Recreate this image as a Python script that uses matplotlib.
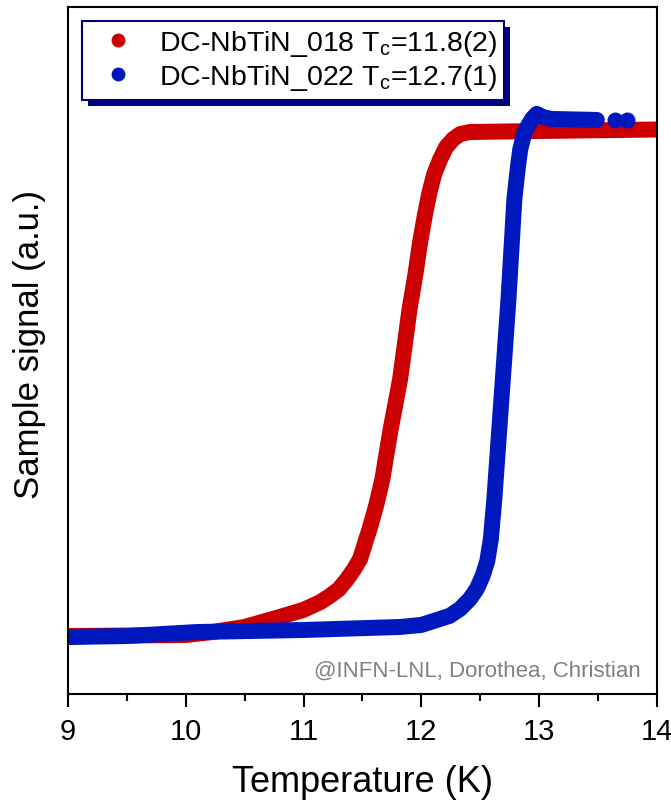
import numpy as np
import matplotlib.pyplot as plt
from matplotlib.lines import Line2D
from matplotlib.patches import Rectangle

plt.rcParams['font.family'] = ['Liberation Sans', 'DejaVu Sans']

# sample 018 (normalised signal)
t_018 = [9.0, 9.5, 10.0, 10.23, 10.5, 10.8, 11.0, 11.14, 11.22, 11.3, 11.37, 11.43, 11.48,
         11.52, 11.56, 11.62, 11.67, 11.70, 11.74, 11.78, 11.82, 11.86, 11.90, 11.95, 11.99,
         12.03, 12.07, 12.11, 12.16, 12.21, 12.27, 12.33, 12.41, 13.0, 14.0]
s_018 = [0.0, 0.001, 0.002, 0.008, 0.018, 0.038, 0.052, 0.067, 0.079, 0.093, 0.113, 0.133, 0.153,
         0.183, 0.212, 0.262, 0.312, 0.355, 0.411, 0.460, 0.510, 0.579, 0.649, 0.718, 0.782,
         0.835, 0.881, 0.917, 0.946, 0.970, 0.986, 0.996, 1.0, 1.002, 1.005]

# sample 022
t_022 = [9.0, 9.5, 10.1, 11.0, 11.82, 12.0, 12.24, 12.33, 12.41, 12.47, 12.52, 12.56, 12.59,
         12.62, 12.65, 12.68, 12.71, 12.74, 12.765, 12.79, 12.82, 12.84, 12.88, 12.94, 12.98,
         13.03, 13.1, 13.49]
s_022 = [-0.002, 0.0, 0.008, 0.012, 0.018, 0.022, 0.040, 0.054, 0.073, 0.093, 0.119, 0.149, 0.192,
         0.272, 0.371, 0.470, 0.569, 0.669, 0.768, 0.867, 0.931, 0.966, 1.002, 1.026, 1.036,
         1.030, 1.026, 1.024]
t_022_tail = [13.64, 13.75]
s_022_tail = [1.024, 1.024]

red = '#CC0000'
blue = '#0019BE'
navy = '#00007F'

fig = plt.figure(figsize=(6.71, 8.03), dpi=100)
ax = fig.add_axes([0.1013, 0.1345, 0.8777, 0.8555])

ax.plot(t_018, s_018, '-', color=red, lw=11.5, solid_capstyle='round', solid_joinstyle='round')
ax.plot(t_022, s_022, '-', color=blue, lw=11.5, solid_capstyle='round', solid_joinstyle='round')
ax.plot(t_022_tail, s_022_tail, 'o', color=blue, ms=11.5, mec='none')

ax.set_xlim(9, 14)
ax.set_ylim(-0.115, 1.248)
ax.set_xticks([9, 10, 11, 12, 13, 14])
ax.set_xticks(np.arange(9.5, 14, 1.0), minor=True)
ax.set_yticks([])
ax.tick_params(axis='x', which='major', direction='out', length=9.5, width=1.5,
               labelsize=21, pad=7)
ax.tick_params(axis='x', which='minor', direction='out', length=5, width=1.5)
for sp in ax.spines.values():
    sp.set_linewidth(1.5)

ax.set_xlabel('Temperature (K)', fontsize=26, labelpad=14)
ax.set_ylabel('Sample signal (a.u.)', fontsize=25)
ax.yaxis.set_label_coords(-0.038, 0.51)

ax.text(0.972, 0.035, '@INFN-LNL, Dorothea, Christian', transform=ax.transAxes,
        ha='right', va='center', fontsize=16, color='#808080')

handles = [Line2D([], [], ls='none', marker='o', color=red, ms=9),
           Line2D([], [], ls='none', marker='o', color=blue, ms=9)]
labels = ['DC-NbTiN_018 T$_\\mathregular{c}$=11.8(2)',
          'DC-NbTiN_022 T$_\\mathregular{c}$=12.7(1)']
leg = ax.legend(handles, labels, loc='upper left', bbox_to_anchor=(0.0238, 0.9796),
                borderaxespad=0, fancybox=False, fontsize=20.5, handletextpad=0.45,
                borderpad=0.25, labelspacing=0.15, handlelength=2.0, framealpha=1)
leg.get_frame().set_edgecolor(navy)
leg.get_frame().set_facecolor('white')
leg.get_frame().set_linewidth(1.5)
leg.set_zorder(5)

# offset dark shadow behind the legend box
fig.canvas.draw()
bb = leg.get_window_extent()
shadow = Rectangle((bb.x0 + 6, bb.y0 - 6), bb.width, bb.height, transform=None,
                   facecolor=navy, edgecolor='none', zorder=4)
ax.add_artist(shadow)

fig.savefig('out.png', dpi=100)
